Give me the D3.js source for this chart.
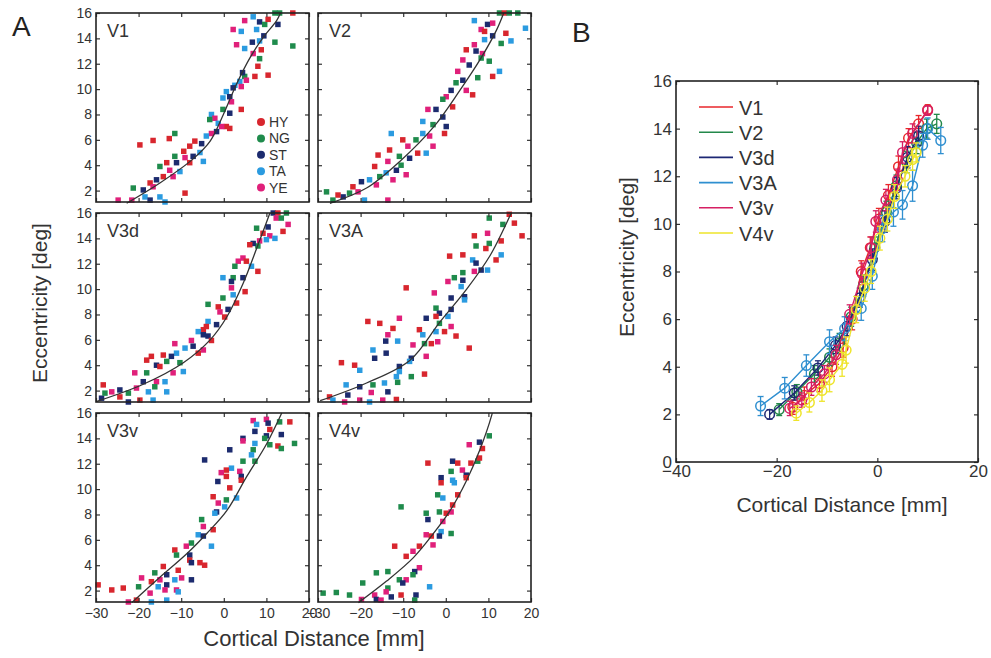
<!DOCTYPE html>
<html>
<head>
<meta charset="utf-8">
<script src="https://cdn.jsdelivr.net/npm/d3@7"></script>
<style>
  body { margin: 0; background: #fff; }
  svg { font-family: "Liberation Sans", Arial, sans-serif; }
</style>
</head>
<body>
<div id="chart"></div>
<script>
// subjects in panel A (index used in the point arrays)
const subjects = ["HY", "NG", "ST", "TA", "YE"];
const subjectColors = ["#d8262e", "#1f8b4c", "#1c2b6e", "#2b9be0", "#e0207a"];

// panel A scatter: [cortical distance, eccentricity, subject index]
const pointsV1 = [[4.9,15.4,4],[6.9,15.7,3],[2.2,14.7,4],[4.1,14.55,3],[7.7,14.7,3],[8.4,15.3,2],[9.6,15.1,1],[10.4,15.5,0],[12,16,1],[13.1,16,1],[16.2,16,0],[12.7,15.1,2],[12,13.7,1],[16.2,13.4,1],[3,13.5,4],[4.9,13.2,3],[6.7,13.7,2],[8.4,13.8,3],[9.4,14.2,2],[8.8,13.1,0],[6.9,12.8,4],[8.4,12.4,1],[8,11.8,0],[10.4,11.1,0],[7.3,11.0,0],[4.9,11.0,1],[4.4,11.3,2],[5.3,10.7,4],[3.75,10.6,3],[2.6,10.3,3],[2.2,10.1,2],[4.1,10.2,4],[0.6,9.8,3],[1.4,9.4,2],[-0.2,9.3,3],[1.8,9.0,4],[-0.2,8.4,1],[4.1,8.4,0],[1.4,8.1,2],[-2.9,8.0,3],[-2.1,7.7,4],[-3.3,7.6,1],[-1.3,7.3,3],[0.6,7.05,0],[1.4,6.9,0],[-0.5,7.05,4],[-1.7,6.65,2],[-2.9,6.5,4],[-4.1,6.3,3],[-5.2,5.7,2],[-6.8,5.9,0],[-8.0,5.5,0],[-9.4,5.1,0],[-9.1,4.6,4],[-7.2,4.7,2],[-5.6,5.0,3],[-4.8,4.3,3],[-8,4.2,0],[-11.1,4.2,2],[-11.5,4.7,1],[-13.4,4.2,0],[-15,3.9,1],[-12.7,3.6,4],[-10.3,3.5,3],[-11.9,3.1,4],[-14.2,3.1,0],[-15.8,2.85,2],[-17.3,2.6,0],[-16.6,2.3,4],[-18.9,2.05,2],[-21.25,2.2,1],[-18.5,1.5,3],[-15,1.5,3],[-17.3,1.25,2],[-13.8,1.1,3],[-24.8,1.25,4],[-21.6,1.25,4],[-9.1,1.8,0],[-11.5,6.5,1],[-19.7,5.6,0],[-16.6,5.95,0],[-12.8,6.1,0]];

const pointsV2 = [[6.7,15.4,3],[9.8,15.1,2],[8.3,14.7,4],[9.1,14.55,0],[12.6,16,1],[13.75,16,0],[14.9,16,1],[16.9,16,1],[18.7,14.8,3],[14.1,14.4,0],[13,13.6,1],[15.3,13.8,3],[11,14.2,2],[9.1,13.9,3],[6.7,13.5,4],[4.8,13.1,0],[7.1,13.0,2],[8.6,12.8,4],[8.3,12.45,1],[10.2,12.2,1],[4,12.3,4],[5.5,11.9,2],[12.6,11.4,3],[11,11.0,0],[2.8,11.4,4],[4,10.7,2],[2.4,10.5,1],[7.5,10.9,1],[4.8,9.9,4],[6.3,9.55,0],[1.25,9.9,2],[0.1,9.4,4],[1.6,8.6,0],[-0.7,9.2,1],[-2.3,8.4,2],[-4.2,8.4,4],[-5.4,7.45,3],[-3,7.2,1],[-0.7,7.8,2],[0.1,7.05,2],[-0.3,6.5,0],[-5.4,6.5,3],[-3.8,6.3,4],[-7,6.0,1],[-10.1,6.0,0],[-12.8,6.5,3],[-8.9,5.5,4],[-3,5.5,4],[-4.6,4.95,3],[-6.6,4.95,0],[-8.5,4.55,2],[-10.9,4.7,1],[-13.2,5.2,0],[-15.9,4.8,0],[-13.6,4.3,4],[-16.7,3.9,0],[-10.5,4.0,1],[-11.6,3.6,2],[-14,3.4,3],[-15.5,3.1,1],[-9.3,3.25,4],[-12.4,2.85,4],[-17.9,2.85,3],[-16.3,2.45,4],[-19.8,2.7,2],[-21.8,2.3,0],[-20.6,1.9,4],[-22.6,1.8,1],[-24.1,1.5,2],[-25.3,1.65,0],[-28,1.9,1],[-26.5,1.25,1],[-19.1,1.25,3],[-13.6,1.25,4],[11,15.2,4]];

const pointsV3d = [[11.6,16,2],[12.7,16,0],[14.7,16,1],[12.3,15.6,4],[15.1,15.1,4],[13.5,15.6,1],[7.7,14.8,1],[10.4,14.9,2],[13.9,14.55,0],[9.2,14.4,0],[10.8,14.2,4],[12,14.0,3],[10,13.9,3],[8.4,13.8,4],[8,13.4,1],[6.9,13.6,2],[6.1,13.5,0],[4.5,12.45,4],[5.3,12.2,0],[6.5,11.8,3],[3.4,12.2,4],[2.6,11.8,1],[8,11.4,0],[-0.2,10.9,3],[2.2,10.9,1],[1.8,10.6,2],[4.5,10.9,2],[1.8,10.1,4],[5,9.8,0],[2.2,9.55,3],[-0.2,9.3,1],[3,8.9,0],[-3.7,8.8,1],[-1.3,8.6,0],[1,8.4,2],[-0.9,8.2,4],[0.2,7.8,0],[-3.7,7.45,3],[-1.7,7.2,2],[-4.1,7.05,0],[-4.8,6.8,0],[-6,6.65,3],[-4.8,6.4,2],[-3.7,6.3,2],[-2.9,5.95,0],[-7.6,5.95,4],[-7.2,5.5,2],[-9.1,5.35,3],[-4.8,5.2,4],[-6,4.95,0],[-11.5,5.7,4],[-11.1,4.95,3],[-12.3,4.7,2],[-14.2,4.8,0],[-17,4.7,0],[-13.4,4.3,1],[-15.8,4.0,2],[-18.1,4.4,0],[-15,3.9,0],[-11.9,3.4,4],[-9.5,3.5,3],[-10.3,4.2,1],[-20.9,3.4,4],[-18.1,3.4,1],[-18.9,2.7,2],[-15.8,2.7,4],[-13.8,2.7,3],[-16.2,2.3,1],[-17.7,1.9,3],[-13.4,1.9,3],[-16.6,1.25,3],[-20.5,2.2,4],[-22.4,1.8,1],[-24.4,2.05,2],[-24.4,1.5,0],[-26.3,1.9,4],[-28.3,2.45,0],[-28.7,1.4,2],[-27.9,1.8,1],[-22.4,1.1,2],[-19.7,1.25,0]];

const pointsV3A = [[14.9,15.9,0],[10.2,15.6,1],[13.4,15.1,1],[16.1,15.2,0],[17.9,14.2,0],[6.7,14.2,0],[9.8,14.4,4],[10.2,13.6,1],[13,13.8,0],[7.1,13.4,1],[9.4,13.2,0],[13,12.7,3],[11.8,12.3,0],[0.9,12.6,0],[4,12.7,0],[6.3,12.3,3],[7.1,12.05,2],[9.8,11.5,3],[8.3,11.5,2],[6.7,11.4,4],[4,11.3,1],[2,10.9,1],[0.5,10.6,4],[4,10.7,2],[3.6,10.2,3],[-9.3,10.1,0],[-2.7,9.7,4],[1.25,9.3,2],[4.4,9.4,2],[4.4,9.15,3],[-2.3,8.5,1],[1.25,8.4,2],[-1.5,8.1,2],[-2.3,7.85,0],[0.5,7.85,3],[-4.6,7.7,2],[-10.9,7.7,4],[-18.3,7.45,0],[-15.5,7.3,0],[-1.5,7.3,1],[-12.4,6.9,0],[1.25,7.05,4],[-6.2,6.8,0],[-2.3,6.65,3],[-0.3,6.65,0],[2.4,6.3,0],[-13.6,6.4,4],[-11.3,5.9,3],[-14.1,5.9,2],[-5.4,6.4,3],[-5,5.7,1],[-7.7,5.6,4],[-3.4,5.7,0],[-1.9,5.85,4],[5.5,5.35,0],[-17.1,5.2,3],[-16.7,4.55,2],[-14,4.95,2],[-8.1,4.55,2],[-4.6,4.7,4],[-8.5,4.3,3],[-24.5,4.2,0],[-21.4,4.0,0],[-20.2,3.6,3],[-10.9,3.9,2],[-10.9,3.5,3],[-11.6,3.1,3],[-11.3,2.65,1],[-8.1,3.1,1],[-5,3.3,0],[-14.4,2.6,3],[-17.1,2.45,1],[-20.2,2.3,2],[-23.4,2.45,3],[-13.6,1.9,2],[-17.5,1.85,4],[-23,1.65,2],[-27.3,1.5,0],[-26.5,1.25,3],[-23.75,1.1,4],[-20.2,1.25,4],[-17.9,1.1,3],[-14.8,1.25,4],[-11.6,1.3,0]];

const pointsV3v = [[10,15.5,4],[6.9,15.4,4],[7.7,15.1,3],[7.3,14.55,2],[10.4,15.2,2],[10.8,14.7,0],[13.1,15.3,1],[15.5,15.3,0],[10,14.2,2],[9.6,14.0,1],[13.5,14.3,2],[4.5,14.0,2],[4.5,13.8,4],[6.9,13.1,1],[7.3,13.6,3],[10.8,13.5,1],[12.7,13.4,0],[13.5,13.2,1],[16.6,13.6,1],[1.4,13.1,2],[6.5,12.7,3],[7.3,12.2,1],[4.5,12.2,1],[-4.5,12.3,2],[1.8,11.65,3],[0.6,11.5,0],[-0.6,11.3,4],[3.75,11.4,4],[0.6,11.0,0],[4.1,11.0,2],[4.1,10.7,0],[-1.4,10.6,2],[1.4,10.1,0],[3,9.3,3],[0.6,9.15,1],[-2.5,9.4,0],[-1.3,8.9,4],[0.2,8.6,3],[-1.7,8.2,2],[-2.1,8.1,3],[-5.2,7.6,1],[-4.8,7.05,4],[-6,6.4,3],[-4.8,6.3,2],[-2.5,6.8,0],[-2.9,5.5,3],[-7.6,5.75,1],[-8.8,5.5,4],[-11.5,5.2,0],[-11.1,4.8,1],[-8,4.8,2],[-8,4.4,0],[-7.6,4.2,2],[-5.6,4.2,0],[-4.5,4.0,0],[-14.2,3.9,0],[-10.7,3.6,0],[-16.2,3.4,1],[-13.4,3.25,2],[-19.3,3.0,4],[-17,2.7,0],[-15,2.85,4],[-11.5,2.85,3],[-9.9,3.0,4],[-7.6,2.85,2],[-13.4,2.45,2],[-15.4,2.3,3],[-20,2.3,1],[-13.8,2.05,4],[-11.1,2.05,4],[-10.7,1.9,3],[-17.3,1.8,4],[-29.5,2.45,0],[-26.3,2.05,0],[-23.6,2.2,0],[-22.4,1.1,4],[-20.5,1.25,0],[-17,1.1,3],[-13.4,1.25,3]];

const pointsV4v = [[10.2,14.2,1],[7.9,13.7,2],[5.5,13.5,4],[8.6,13.2,0],[7.5,12.2,1],[5.9,12.05,0],[7.9,12.45,0],[-4.2,12.05,0],[1.6,12.2,2],[2.8,12.05,0],[1.25,11.4,1],[3.9,11.5,4],[4.8,11.1,2],[4.8,10.9,0],[-1.1,10.9,2],[-1.1,10.5,0],[1.6,10.7,3],[2,10.5,3],[-1.9,9.55,1],[-0.7,9.3,3],[2.8,9.55,0],[-10.5,8.6,1],[1.6,8.75,0],[-4.6,8.1,1],[-1.5,8.2,1],[0.1,8.1,0],[1.25,8.2,4],[-4.2,7.6,2],[-0.7,7.45,4],[1.25,6.5,1],[-1.1,6.65,3],[-4.6,6.4,4],[-1.5,6.3,2],[-3.4,6.3,0],[-3,5.6,4],[-6.2,5.5,0],[-12,5.5,0],[-7.7,5.1,4],[-9.3,4.7,0],[-6.2,3.8,4],[-7.3,3.5,2],[-7.7,3.25,1],[-13.6,3.5,1],[-16.3,3.4,1],[-19.5,2.6,1],[-10.9,2.85,1],[-9.3,2.85,4],[-10.1,2.6,2],[-13.6,2.2,1],[-14,1.9,4],[-10.5,1.65,0],[-12.8,1.5,2],[-16.7,1.65,4],[-16.3,1.3,2],[-15.2,1.25,4],[-19.8,1.3,4],[-7,1.65,2],[-7.3,1.25,1],[-3.8,2.3,3],[-28.8,1.8,1],[-25.7,1.85,1],[-22.6,1.65,1]];

// panel A fitted curves
const curveV1 = [[-22.8,1.0],[-15,2.6],[-7.2,4.5],[-3.2,5.9],[-0.1,8.0],[3.0,10.4],[6.2,12.5],[9.3,14.1],[12.4,15.4],[13.3,16]];
const curveV2 = [[-27.2,1.0],[-18.6,2.2],[-10.8,4.3],[-2.9,7.0],[3.3,9.9],[8.0,12.3],[11.9,14.65],[13.6,16]];
const curveV3d = [[-29.8,1.15],[-18.9,2.5],[-9.5,4.2],[-3.2,6.0],[0.7,7.8],[4.6,10.5],[7.7,13.2],[10.5,15.7],[10.8,16]];
const curveV3A = [[-29.5,1.2],[-18.6,2.6],[-8.4,4.4],[-1.4,7.4],[4.9,10.0],[10.4,12.65],[15.1,15.8],[15.4,16]];
const curveV3v = [[-21.6,1.05],[-15,3.05],[-8.7,4.9],[-4,6.5],[0.7,8.3],[5.4,11.0],[10.1,13.6],[13.6,16]];
const curveV4v = [[-20.5,1.05],[-13.9,2.75],[-7.6,4.6],[-2.9,6.5],[1.0,8.3],[4.9,10.7],[8.0,13.1],[10.8,15.85],[10.9,16]];

const panelsA = [
  {name: "V1", pts: pointsV1, fit: curveV1, col: 0, row: 0, legend: true},
  {name: "V2", pts: pointsV2, fit: curveV2, col: 1, row: 0},
  {name: "V3d", pts: pointsV3d, fit: curveV3d, col: 0, row: 1},
  {name: "V3A", pts: pointsV3A, fit: curveV3A, col: 1, row: 1},
  {name: "V3v", pts: pointsV3v, fit: curveV3v, col: 0, row: 2},
  {name: "V4v", pts: pointsV4v, fit: curveV4v, col: 1, row: 2}
];

// panel B: mean eccentricity with error bars per area
const areasB = ["V1", "V2", "V3d", "V3A", "V3v", "V4v"];
const areaColors = ["#e8262b", "#23884a", "#1d2774", "#2f8fd0", "#d61f63", "#eee42a"];
const distB = [
  [-16.8, -14.5, -11.5, -9.0, -6.8, -5.0, -3.2, -1.4, 0.3, 2.2, 4.2, 6.2, 8.2, 10.0],
  [-19.5, -16.0, -12.5, -9.5, -7.5, -5.2, -2.8, -0.5, 1.8, 3.8, 5.8, 7.8, 9.8, 11.8],
  [-21.4, -16.5, -11.8, -8.3, -6.0, -3.5, -1.0, 1.5, 3.8, 6.0, 8.2],
  [-23.2, -18.4, -14.1, -9.5, -6.5, -3.2, -1.0, 1.0, 3.2, 5.0, 7.0, 9.0, 10.0, 12.6],
  [-17.4, -15.0, -13.1, -10.5, -8.2, -5.5, -3.0, -1.2, -0.3, 1.7, 4.0, 5.0, 7.0, 10.0],
  [-16.1, -13.5, -11.0, -9.5, -7.0, -6.2, -4.2, -2.5, -1.25, 0.5, 2.0, 3.4, 5.5, 7.0, 7.7]
];
const eccB = [
  [2.3, 2.8, 3.3, 4.0, 4.8, 6.0, 8.0, 9.0, 10.2, 11.2, 12.4, 13.6, 14.2, 14.8],
  [2.2, 2.95, 3.7, 4.4, 5.0, 6.1, 7.4, 9.0, 10.5, 11.6, 12.6, 13.4, 14.0, 14.2],
  [2.0, 2.9, 3.95, 4.9, 5.7, 6.9, 8.5, 10.1, 11.5, 12.8, 13.7],
  [2.35, 3.1, 4.05, 5.05, 5.6, 6.45, 7.8, 9.8, 10.5, 10.8, 11.6, 13.3, 14.0, 13.5],
  [2.25, 2.6, 3.15, 3.7, 4.5, 6.2, 7.9, 9.0, 10.1, 11.0, 11.85, 13.0, 13.8, 14.76],
  [2.05, 2.5, 3.0, 3.45, 4.1, 4.7, 6.4, 7.3, 8.0, 9.4, 10.2, 11.15, 12.0, 12.7, 13.0]
];
const errB = [
  [0.3, 0.35, 0.35, 0.4, 0.4, 0.45, 0.45, 0.45, 0.45, 0.45, 0.45, 0.4, 0.35, 0.2],
  [0.25, 0.3, 0.35, 0.35, 0.4, 0.4, 0.45, 0.45, 0.45, 0.45, 0.45, 0.45, 0.4, 0.4],
  [0.2, 0.3, 0.3, 0.35, 0.4, 0.4, 0.45, 0.45, 0.45, 0.45, 0.4],
  [0.4, 0.45, 0.45, 0.5, 0.5, 0.5, 0.55, 0.55, 0.6, 0.6, 0.65, 0.5, 0.45, 0.55],
  [0.3, 0.3, 0.35, 0.35, 0.4, 0.4, 0.45, 0.45, 0.45, 0.45, 0.45, 0.45, 0.4, 0.2],
  [0.3, 0.4, 0.45, 0.5, 0.5, 0.55, 0.55, 0.55, 0.5, 0.5, 0.5, 0.5, 0.45, 0.45, 0.4]
];

const yTicksA = [2, 4, 6, 8, 10, 12, 14, 16];
const xTicksA = [-30, -20, -10, 0, 10, 20];
const xTicksB = [-40, -20, 0, 20];
const yTicksB = [0, 2, 4, 6, 8, 10, 12, 14, 16];

const W = 991, H = 658;
const svg = d3.select("#chart").append("svg")
  .attr("width", W).attr("height", H)
  .style("background", "#fff");

// ---------- panel A ----------
const colLeft = [96, 318], rowTop = [13, 213, 413];
const pw = 213, ph = 189;
const xA = d3.scaleLinear().domain([-30, 20]).range([0, pw]);
const yA = d3.scaleLinear().domain([1.1, 16]).range([ph, 0]);
const symbol = d3.symbol().type(d3.symbolSquare).size(30);
const fitLine = d3.line().x(d => xA(d[0])).y(d => yA(d[1])).curve(d3.curveCatmullRom);

panelsA.forEach(function(p) {
  const g = svg.append("g").attr("transform", `translate(${colLeft[p.col]}, ${rowTop[p.row]})`);

  g.selectAll("path.pt")
    .data(p.pts)
    .enter()
    .append("path")
    .attr("class", "pt")
    .attr("d", symbol)
    .attr("transform", d => `translate(${xA(d[0])}, ${yA(d[1])})`)
    .attr("fill", d => subjectColors[d[2]]);

  g.append("path")
    .datum(p.fit)
    .attr("d", fitLine)
    .attr("fill", "none")
    .attr("stroke", "#333")
    .attr("stroke-width", 1.3);

  // inward ticks on every side
  const left = g.append("g").call(d3.axisLeft(yA).tickValues(yTicksA).tickSize(-4).tickPadding(4)
    .tickFormat(p.col === 0 ? d3.format("d") : ""));
  const right = g.append("g").attr("transform", `translate(${pw},0)`)
    .call(d3.axisRight(yA).tickValues(yTicksA).tickSize(-4).tickFormat(""));
  const top = g.append("g").call(d3.axisTop(xA).tickValues(xTicksA).tickSize(-4).tickFormat(""));
  const bottom = g.append("g").attr("transform", `translate(0,${ph})`)
    .call(d3.axisBottom(xA).tickValues(xTicksA).tickSize(-4).tickPadding(6)
      .tickFormat(p.row === 2 ? d3.format("d") : ""));
  [left, right, top, bottom].forEach(a => {
    a.select(".domain").remove();
    a.selectAll("line").attr("stroke", "#333").attr("stroke-width", 1.2);
    a.selectAll("text").attr("font-size", 14).attr("fill", "#333")
      .attr("font-family", "Liberation Sans, Arial, sans-serif");
  });

  g.append("rect")
    .attr("width", pw).attr("height", ph)
    .attr("fill", "none").attr("stroke", "#222").attr("stroke-width", 1.6);

  g.append("text")
    .attr("x", 11).attr("y", 24)
    .attr("font-size", 18).attr("fill", "#333")
    .text(p.name);

  if (p.legend) {
    const lg = g.selectAll("g.leg").data(subjects).enter().append("g")
      .attr("transform", (d, i) => `translate(165, ${109 + i * 16.4})`);
    lg.append("circle").attr("r", 4).attr("fill", (d, i) => subjectColors[i]);
    lg.append("text").attr("x", 8).attr("y", 5).attr("font-size", 14).attr("fill", "#333").text(d => d);
  }
});

svg.append("text")
  .attr("transform", "translate(47, 303) rotate(-90)")
  .attr("text-anchor", "middle")
  .attr("font-size", 21).attr("fill", "#333")
  .text("Eccentricity [deg]");

svg.append("text")
  .attr("x", 314).attr("y", 646)
  .attr("text-anchor", "middle")
  .attr("font-size", 22).attr("fill", "#333")
  .text("Cortical Distance [mm]");

svg.append("text")
  .attr("x", 12).attr("y", 36)
  .attr("font-size", 28).attr("fill", "#222")
  .text("A");

// ---------- panel B ----------
const xB = d3.scaleLinear().domain([-40, 20]).range([676, 978]);
const yB = d3.scaleLinear().domain([0, 16]).range([462, 81]);
const gB = svg.append("g");

areasB.forEach(function(name, k) {
  const rows = distB[k].map((x, i) => ({x: x, y: eccB[k][i], e: errB[k][i]}));
  const col = areaColors[k];
  const sg = gB.append("g");

  sg.append("path")
    .datum(rows)
    .attr("d", d3.line().x(d => xB(d.x)).y(d => yB(d.y)))
    .attr("fill", "none").attr("stroke", col).attr("stroke-width", 1.4);

  const eb = sg.selectAll("g.eb").data(rows).enter().append("g");
  eb.append("line")
    .attr("x1", d => xB(d.x)).attr("x2", d => xB(d.x))
    .attr("y1", d => yB(d.y - d.e)).attr("y2", d => yB(d.y + d.e))
    .attr("stroke", col).attr("stroke-width", 1.3);
  eb.append("line")
    .attr("x1", d => xB(d.x) - 3).attr("x2", d => xB(d.x) + 3)
    .attr("y1", d => yB(d.y + d.e)).attr("y2", d => yB(d.y + d.e))
    .attr("stroke", col).attr("stroke-width", 1.3);
  eb.append("line")
    .attr("x1", d => xB(d.x) - 3).attr("x2", d => xB(d.x) + 3)
    .attr("y1", d => yB(d.y - d.e)).attr("y2", d => yB(d.y - d.e))
    .attr("stroke", col).attr("stroke-width", 1.3);
  eb.append("circle")
    .attr("cx", d => xB(d.x)).attr("cy", d => yB(d.y)).attr("r", 4.8)
    .attr("fill", "none").attr("stroke", col).attr("stroke-width", 1.5);
});

const bw = xB.range()[1] - xB.range()[0];
const bLeft = gB.append("g").attr("transform", `translate(${xB.range()[0]},0)`)
  .call(d3.axisLeft(yB).tickValues(yTicksB).tickSize(-4).tickPadding(4).tickFormat(d3.format("d")));
const bRight = gB.append("g").attr("transform", `translate(${xB.range()[1]},0)`)
  .call(d3.axisRight(yB).tickValues(yTicksB).tickSize(-4).tickFormat(""));
const bTop = gB.append("g").attr("transform", `translate(0,${yB(16)})`)
  .call(d3.axisTop(xB).tickValues(xTicksB).tickSize(-4).tickFormat(""));
const bBottom = gB.append("g").attr("transform", `translate(0,${yB(0)})`)
  .call(d3.axisBottom(xB).tickValues(xTicksB).tickSize(-4).tickPadding(3).tickFormat(d3.format("d")));
[bLeft, bRight, bTop, bBottom].forEach(a => {
  a.select(".domain").remove();
  a.selectAll("line").attr("stroke", "#333").attr("stroke-width", 1.2);
  a.selectAll("text").attr("font-size", 17).attr("fill", "#333")
    .attr("font-family", "Liberation Sans, Arial, sans-serif");
});

gB.append("rect")
  .attr("x", xB.range()[0]).attr("y", yB(16))
  .attr("width", bw).attr("height", yB(0) - yB(16))
  .attr("fill", "none").attr("stroke", "#222").attr("stroke-width", 1.6);

const legB = gB.selectAll("g.legB").data(areasB).enter().append("g")
  .attr("transform", (d, i) => `translate(699, ${107 + i * 25.2})`);
legB.append("line").attr("x1", 0).attr("x2", 34)
  .attr("stroke", (d, i) => areaColors[i]).attr("stroke-width", 1.6);
legB.append("text").attr("x", 40).attr("y", 7.5)
  .attr("font-size", 20).attr("fill", "#333").text(d => d);

svg.append("text")
  .attr("transform", "translate(634, 257) rotate(-90)")
  .attr("text-anchor", "middle")
  .attr("font-size", 21).attr("fill", "#333")
  .text("Eccentricity [deg]");

svg.append("text")
  .attr("x", 842).attr("y", 512)
  .attr("text-anchor", "middle")
  .attr("font-size", 21).attr("fill", "#333")
  .text("Cortical Distance [mm]");

svg.append("text")
  .attr("x", 572).attr("y", 42)
  .attr("font-size", 28).attr("fill", "#222")
  .text("B");
</script>
</body>
</html>
